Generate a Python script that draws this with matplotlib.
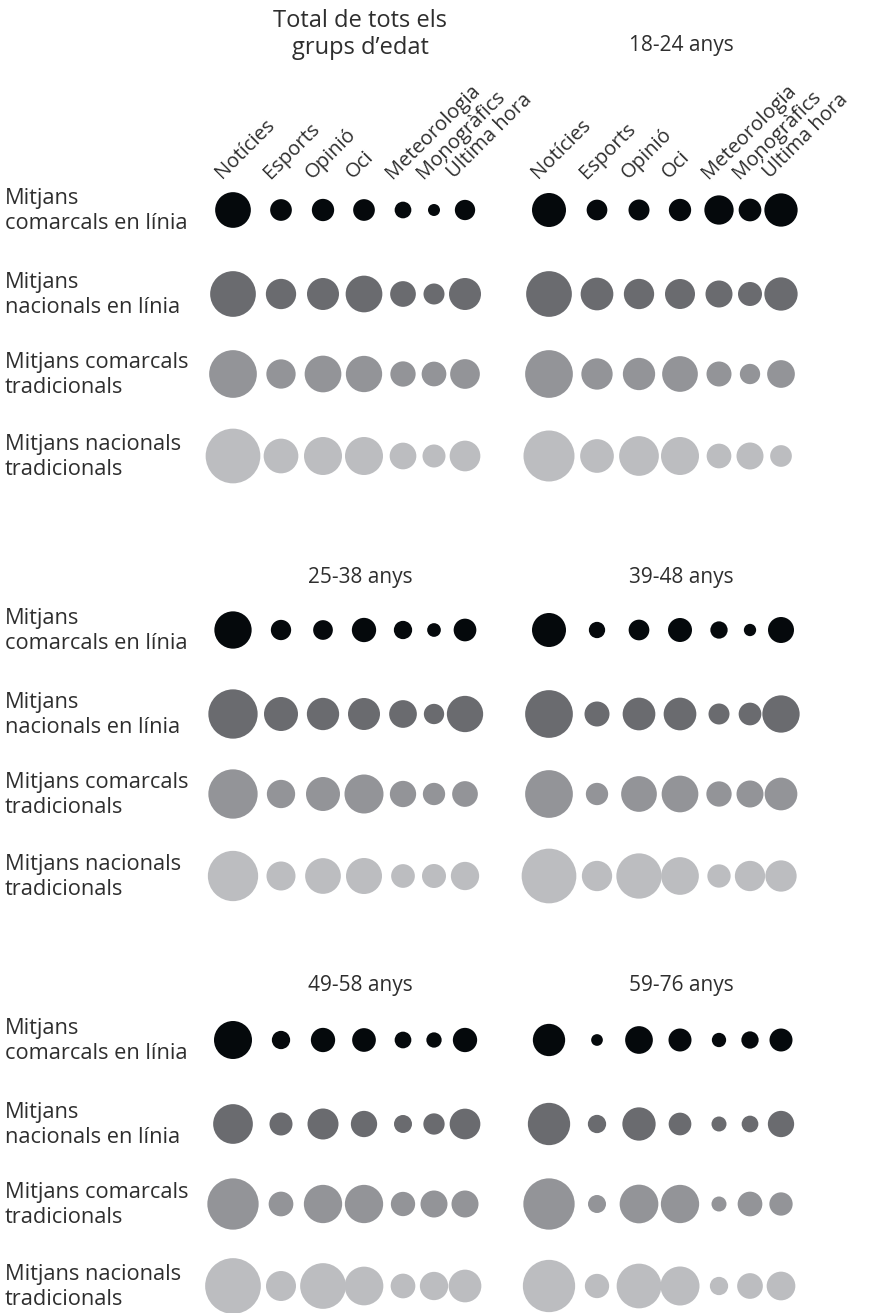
import matplotlib
matplotlib.use("Agg")
import matplotlib.pyplot as plt

plt.rcParams['font.family'] = ['Open Sans', 'DejaVu Sans']

# categories
topics = ['Notícies', 'Esports', 'Opinió', 'Oci', 'Meteorologia', 'Monogràfics', 'Última hora']
media = ['Mitjans\ncomarcals en línia', 'Mitjans\nnacionals en línia',
         'Mitjans comarcals\ntradicionals', 'Mitjans nacionals\ntradicionals']
groups = ['Total de tots els\ngrups d’edat', '18-24 anys', '25-38 anys',
          '39-48 anys', '49-58 anys', '59-76 anys']

# bubble values (one row per media type, one column per topic)
total = [[35.7, 21.7, 22.3, 21.7, 16.7, 12.0, 20.3],
         [45.7, 30.3, 32.0, 36.7, 25.7, 21.0, 32.0],
         [47.7, 29.3, 36.7, 36.3, 25.3, 24.7, 29.7],
         [54.7, 34.7, 38.0, 38.0, 26.7, 23.0, 30.7]]
age_18_24 = [[34.0, 20.7, 21.0, 22.3, 29.3, 22.7, 33.3],
             [45.7, 32.7, 30.3, 30.0, 27.0, 24.0, 33.3],
             [47.7, 31.3, 32.3, 35.7, 25.0, 20.3, 27.7],
             [51.0, 33.7, 39.7, 38.0, 24.7, 27.0, 21.7]]
age_25_38 = [[37.3, 20.3, 19.7, 24.3, 18.3, 13.7, 22.7],
             [49.3, 34.0, 32.3, 32.0, 27.7, 20.3, 36.3],
             [49.3, 28.3, 34.0, 39.0, 26.3, 22.3, 25.7],
             [50.3, 29.0, 35.7, 36.0, 23.7, 24.0, 28.3]]
age_39_48 = [[34.0, 16.3, 20.7, 24.0, 17.3, 12.3, 26.0],
             [47.7, 25.0, 32.7, 32.7, 21.0, 22.7, 37.3],
             [47.7, 22.3, 35.7, 36.7, 25.3, 27.0, 32.7],
             [54.7, 30.3, 45.3, 37.7, 23.3, 30.3, 31.3]]
age_49_58 = [[38.0, 18.3, 24.3, 23.7, 16.7, 15.3, 24.3],
             [39.7, 23.0, 31.0, 26.3, 18.0, 21.3, 30.7],
             [51.3, 24.7, 38.3, 38.3, 24.3, 27.0, 27.0],
             [55.7, 30.0, 45.7, 38.7, 24.7, 28.3, 32.7]]
age_59_76 = [[32.3, 11.7, 27.7, 23.0, 14.3, 17.3, 23.0],
             [42.3, 18.3, 33.3, 22.7, 15.0, 16.7, 26.3],
             [51.3, 18.0, 38.7, 38.3, 15.0, 24.7, 23.3],
             [52.3, 24.3, 44.7, 39.0, 18.3, 25.7, 28.7]]
panels = [total, age_18_24, age_25_38, age_39_48, age_49_58, age_59_76]

# layout (pixel units)
W, H = 881, 1313
col_x0 = [233, 549]
col_step = [0, 48, 90, 131, 170, 201, 232]
block_y0 = [210, 630, 1040]
row_step = [0, 84, 164, 246]
title_x = [360, 681]
title_y = [45, 577, 985]
colors = ['#05090c', '#6a6b6f', '#939498', '#bcbdc0']
text_color = '#2e2e2e'

fig = plt.figure(figsize=(W / 100, H / 100), dpi=100)
ax = fig.add_axes([0, 0, 1, 1])
ax.set_xlim(0, W)
ax.set_ylim(H, 0)
ax.axis('off')

px2pt = 72 / 100

for p, data in enumerate(panels):
    block, side = divmod(p, 2)
    xs = [col_x0[side] + s for s in col_step]
    for r, row in enumerate(data):
        ys = [block_y0[block] + row_step[r]] * len(row)
        sizes = [(v * px2pt) ** 2 for v in row]
        ax.scatter(xs, ys, s=sizes, color=colors[r], linewidths=0, zorder=2)

    if p == 0:
        line1, line2 = groups[p].split('\n')
        ax.text(title_x[side], 21, line1, ha='center', va='center',
                fontsize=17, color=text_color)
        ax.text(title_x[side], 48, line2, ha='center', va='center',
                fontsize=17, color=text_color)
    else:
        ax.text(title_x[side], title_y[block], groups[p], ha='center',
                va='center', fontsize=15, color=text_color)

    # column labels on the first block only
    if block == 0:
        for c, name in enumerate(topics):
            ax.text(xs[c] - 11, block_y0[0] - 31, name,
                    rotation=45, rotation_mode='anchor', ha='left', va='baseline',
                    fontsize=14.5, color=text_color)

# row labels
for block in range(3):
    for r, name in enumerate(media):
        ax.text(5, block_y0[block] + row_step[r] + 1, name, ha='left', va='center',
                fontsize=15.7, color=text_color, linespacing=1.2)

fig.savefig('out.png', dpi=100)
